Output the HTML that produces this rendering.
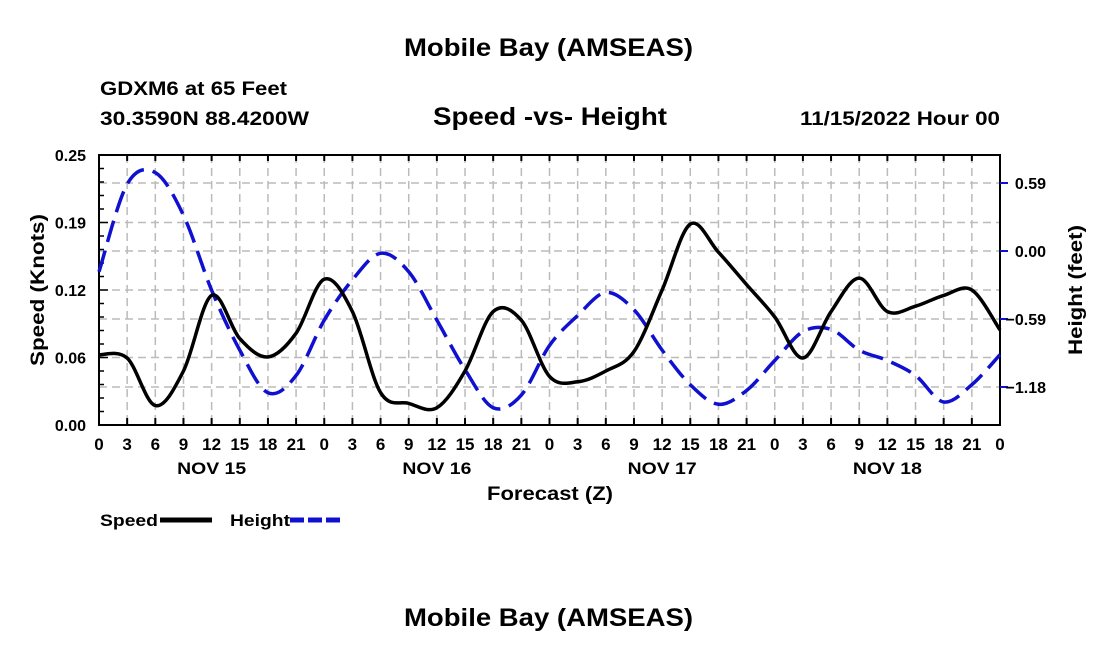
<!DOCTYPE html>
<html><head><meta charset="utf-8"><style>
body{margin:0;background:#fff;width:1100px;height:650px;overflow:hidden}
svg text{font-family:"Liberation Sans",Arial,sans-serif;font-weight:bold;fill:#000}
</style></head><body>
<svg id="chart" width="1100" height="650">
<text x="404" y="56" font-size="25" textLength="289" lengthAdjust="spacingAndGlyphs">Mobile Bay (AMSEAS)</text>
<text x="100" y="95" font-size="19" textLength="187" lengthAdjust="spacingAndGlyphs">GDXM6 at 65 Feet</text>
<text x="100" y="125" font-size="19" textLength="209" lengthAdjust="spacingAndGlyphs">30.3590N  88.4200W</text>
<text x="433" y="125" font-size="25" textLength="234" lengthAdjust="spacingAndGlyphs">Speed -vs- Height</text>
<text x="800" y="125" font-size="19" textLength="200" lengthAdjust="spacingAndGlyphs">11/15/2022 Hour 00</text>
<g id="grid"></g>
<g id="axes"></g>
<g id="series"></g>
<text transform="translate(44,290) rotate(-90)" font-size="19" text-anchor="middle" textLength="152" lengthAdjust="spacingAndGlyphs">Speed (Knots)</text>
<text transform="translate(1082,290) rotate(-90)" font-size="19" text-anchor="middle" textLength="130" lengthAdjust="spacingAndGlyphs">Height (feet)</text>
<text x="487" y="500" font-size="19" textLength="126" lengthAdjust="spacingAndGlyphs">Forecast (Z)</text>
<g>
<text x="100" y="526" font-size="17" textLength="58" lengthAdjust="spacingAndGlyphs">Speed</text>
<line x1="160" y1="520" x2="212" y2="520" stroke="#000" stroke-width="5"/>
<text x="230" y="526" font-size="17" textLength="60" lengthAdjust="spacingAndGlyphs">Height</text>
<line x1="290" y1="520" x2="342" y2="520" stroke="#1010d0" stroke-width="5" stroke-dasharray="14,4"/>
</g>
<text x="404" y="626" font-size="25" textLength="289" lengthAdjust="spacingAndGlyphs">Mobile Bay (AMSEAS)</text>
</svg>
<script>
const hourLabels=["0","3","6","9","12","15","18","21","0","3","6","9","12","15","18","21","0","3","6","9","12","15","18","21","0","3","6","9","12","15","18","21","0"];
const dayLabels=["NOV 15","NOV 16","NOV 17","NOV 18"];
const speedTicks=[0,0.0625,0.125,0.1875,0.25];
const speedTickLabels=["0.00","0.06","0.12","0.19","0.25"];
const heightTicks=[0.59,0,-0.59,-1.18];
const heightTickLabels=["0.59","0.00","\u22120.59","\u22121.18"];
const speed=[0.065,0.062,0.018,0.05,0.12,0.08,0.063,0.085,0.135,0.105,0.03,0.02,0.016,0.05,0.105,0.097,0.045,0.04,0.05,0.068,0.125,0.186,0.16,0.13,0.1,0.062,0.105,0.136,0.105,0.11,0.12,0.125,0.088];
const height=[-0.18,0.58,0.68,0.31,-0.34,-0.86,-1.23,-1.08,-0.6,-0.25,-0.02,-0.18,-0.6,-1.03,-1.36,-1.25,-0.82,-0.56,-0.36,-0.51,-0.86,-1.16,-1.33,-1.21,-0.95,-0.7,-0.68,-0.86,-0.95,-1.08,-1.31,-1.16,-0.9];
const X0=99,X1=1000,Y0=155,Y1=425;
const NS="http://www.w3.org/2000/svg";
const xS=i=>X0+(X1-X0)*i/32;
const ySp=v=>Y1-(Y1-Y0)*v/0.25;
const yH=v=>251-v*68/0.59;
function mk(tag,attrs,parent){const e=document.createElementNS(NS,tag);for(const k in attrs)e.setAttribute(k,attrs[k]);parent.appendChild(e);return e;}
const grid=document.getElementById('grid'),axes=document.getElementById('axes'),ser=document.getElementById('series');
for(let i=1;i<32;i++){const l=mk('line',{x1:xS(i),x2:xS(i),y1:Y0,y2:Y1,stroke:'#bbb','stroke-width':1.5,'stroke-dasharray':'8,5'},grid);

}
speedTicks.slice(1,4).forEach(v=>{const l=mk('line',{x1:X0,x2:X1,y1:ySp(v),y2:ySp(v),stroke:'#bbb','stroke-width':1.5,'stroke-dasharray':'8,5'},grid);

});
heightTicks.forEach(v=>{const l=mk('line',{x1:X0,x2:X1,y1:yH(v),y2:yH(v),stroke:'#bbb','stroke-width':1.5,'stroke-dasharray':'8,5'},grid);

});
mk('rect',{x:X0,y:Y0,width:X1-X0,height:Y1-Y0,fill:'none',stroke:'#000','stroke-width':2},axes);
mk('line',{x1:X0,x2:X1,y1:Y0,y2:Y0,stroke:'#000','stroke-width':2,'stroke-dasharray':'3,5'},axes);
hourLabels.forEach((lab,i)=>{mk('line',{x1:xS(i),x2:xS(i),y1:Y1,y2:Y1-7,stroke:'#000','stroke-width':2},axes);
mk('line',{x1:xS(i),x2:xS(i),y1:Y0,y2:Y0+6,stroke:'#000','stroke-width':2},axes);
const t=mk('text',{x:xS(i),y:450,'font-size':17,'text-anchor':'middle'},axes);t.textContent=lab;

});
dayLabels.forEach((d,k)=>{const t=mk('text',{x:xS(8*k+4),y:474,'font-size':17,'text-anchor':'middle',textLength:69,lengthAdjust:'spacingAndGlyphs'},axes);t.textContent=d;

});
for(let v=0;v<=0.25001;v+=0.0125){mk('line',{x1:X0,x2:X0+(Math.round(v/0.0125)%5==0?9:5),y1:ySp(v),y2:ySp(v),stroke:'#000','stroke-width':1.5},axes);}
speedTicks.forEach((v,i)=>{const t=mk('text',{x:86,y:ySp(v)+6,'font-size':16,'text-anchor':'end'},axes);t.textContent=speedTickLabels[i];

});
heightTicks.forEach((v,i)=>{mk('line',{x1:X1,x2:X1+8,y1:yH(v),y2:yH(v),stroke:'#1010d0','stroke-width':2},axes);
const t=mk('text',{x:1046,y:yH(v)+6,'font-size':16,'text-anchor':'end'},axes);t.textContent=heightTickLabels[i];

});
function smooth(pts){let d=`M${pts[0][0]},${pts[0][1]}`;for(let i=0;i<pts.length-1;i++){const p0=pts[Math.max(0,i-1)],p1=pts[i],p2=pts[i+1],p3=pts[Math.min(pts.length-1,i+2)];
d+=` C${p1[0]+(p2[0]-p0[0])/6},${p1[1]+(p2[1]-p0[1])/6} ${p2[0]-(p3[0]-p1[0])/6},${p2[1]-(p3[1]-p1[1])/6} ${p2[0]},${p2[1]}`;}return d;}
const hp=mk('path',{d:smooth(height.map((v,i)=>[xS(i),yH(v)])),fill:'none',stroke:'#1010d0','stroke-width':3.5,'stroke-dasharray':'22,9'},ser);


const sp=mk('path',{d:smooth(speed.map((v,i)=>[xS(i),ySp(v)])),fill:'none',stroke:'#000','stroke-width':3.5},ser);


</script>
</body></html>
